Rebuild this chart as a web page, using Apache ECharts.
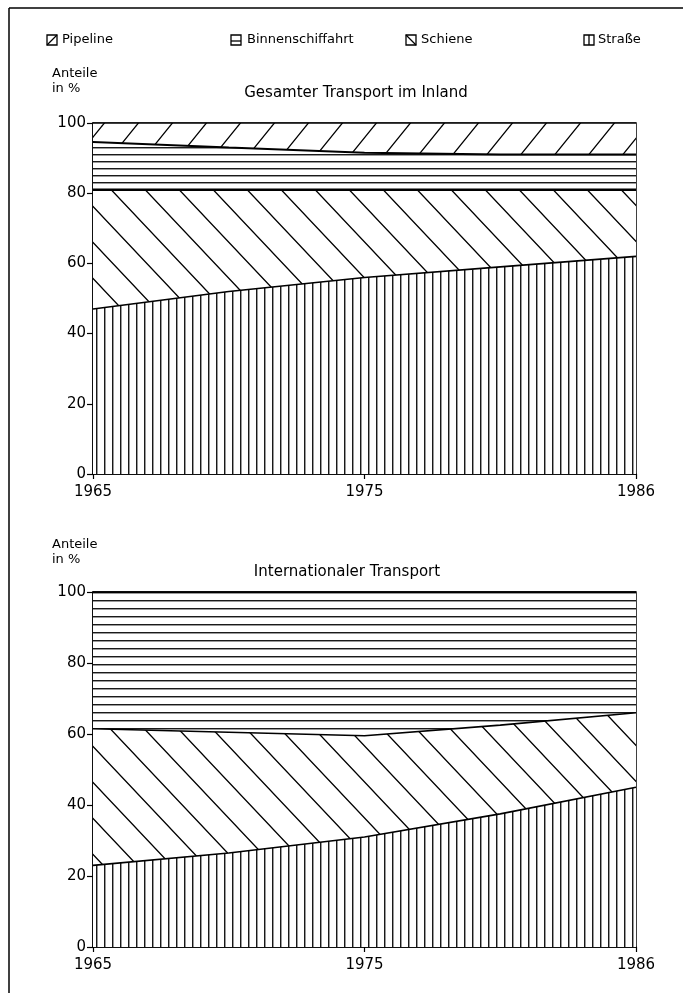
<!DOCTYPE html>
<html><head><meta charset="utf-8">
<script src="https://cdn.jsdelivr.net/npm/echarts@6/dist/echarts.min.js"></script>
<style>html,body{margin:0;padding:0;background:#fff}#c{width:683px;height:993px}</style>
</head><body><div id="c"></div>
<script>
// Categories (x positions are equally spaced in the original)
const years = ['1965', '1970', '1975', '1980', '1986'];
const shownYears = ['1965', '1975', '1986'];
const yTicks = [0, 20, 40, 60, 80, 100];
const legendNames = ['Pipeline', 'Binnenschiffahrt', 'Schiene', 'Straße'];

// Gesamter Transport im Inland (Anteile in %)
const inlandStrasse  = [47, 52, 56, 59, 62];
const inlandSchiene  = [34, 29, 25, 22, 19];
const inlandBinnen   = [13.6, 12, 10.5, 10, 10];
const inlandPipeline = [5.4, 7, 8.5, 9, 9];

// Internationaler Transport (Anteile in %)
const intStrasse  = [23, 26.5, 31, 37.5, 45];
const intSchiene  = [38.5, 34, 28.5, 25, 21];
const intBinnen   = [38.5, 39.5, 40.5, 37.5, 34];
const intPipeline = [0, 0, 0, 0, 0];

function tile(w, h, draw) {
  const c = document.createElement('canvas');
  c.width = w; c.height = h;
  const g = c.getContext('2d');
  g.fillStyle = '#fff'; g.fillRect(0, 0, w, h);
  g.strokeStyle = '#000'; g.lineWidth = 1.3;
  draw(g, w, h);
  return { image: c, repeat: 'repeat' };
}
const shifts = (w, h) => [[0,0],[-w,0],[w,0],[0,-h],[0,h]];
const patStrasse = tile(8, 8, (g, w, h) => { g.beginPath(); g.moveTo(0.75, 0); g.lineTo(0.75, h); g.stroke(); });
const patBinnenTop = tile(8, 7, (g, w, h) => { g.beginPath(); g.moveTo(0, 0.75); g.lineTo(w, 0.75); g.stroke(); });
const patBinnenBot = tile(8, 8, (g, w, h) => { g.beginPath(); g.moveTo(0, 0.75); g.lineTo(w, 0.75); g.stroke(); });
const patPipe = tile(34, 42, (g, w, h) => {
  g.beginPath();
  for (const [dx, dy] of shifts(w, h)) { g.moveTo(dx, h + dy); g.lineTo(w + dx, dy); }
  g.stroke();
});
const patSchiene = tile(34, 36, (g, w, h) => {
  g.beginPath();
  for (const [dx, dy] of shifts(w, h)) { g.moveTo(dx, dy); g.lineTo(w + dx, h + dy); }
  g.stroke();
});

function mk(name, data, idx, pat, stack, lw) {
  return {
    name, type: 'line', data, xAxisIndex: idx, yAxisIndex: idx, stack,
    symbol: 'none', silent: true, animation: false,
    itemStyle: { color: '#000' },
    lineStyle: { color: '#000', width: lw || 1.6 },
    areaStyle: { color: pat, opacity: 1 }
  };
}

const FONT = 'DejaVu Sans';
function xAx(i) {
  const show = (idx) => shownYears.indexOf(years[idx]) >= 0;
  return {
    type: 'category', gridIndex: i, data: years, boundaryGap: false,
    axisLine: { lineStyle: { color: '#000', width: 1.5 } },
    axisTick: { show: true, length: 5, interval: show, lineStyle: { color: '#000', width: 1.2 } },
    axisLabel: { interval: show, color: '#000', fontSize: 15, margin: 11, fontFamily: FONT }
  };
}
function yAx(i) {
  return {
    type: 'value', gridIndex: i, min: yTicks[0], max: yTicks[yTicks.length - 1], interval: 20,
    splitLine: { show: false },
    axisLine: { show: true, lineStyle: { color: '#000', width: 1.5 } },
    axisTick: { show: true, length: 6, lineStyle: { color: '#000', width: 1.2 } },
    axisLabel: { color: '#000', fontSize: 15, margin: 7, fontFamily: FONT }
  };
}

function txt(text, x, y, size, align) {
  return { type: 'text', silent: true, style: { text, x, y, fill: '#000', font: size + 'px ' + FONT, align: align || 'left', verticalAlign: 'middle', textAlign: align || 'left', textVerticalAlign: 'middle' } };
}
function box(x, y, inner) {
  const s = 10;
  const els = [{ type: 'rect', silent: true, shape: { x, y, width: s, height: s }, style: { fill: '#fff', stroke: '#000', lineWidth: 1.3 } }];
  inner.forEach(l => els.push({ type: 'line', silent: true, shape: { x1: x + l[0] * s, y1: y + l[1] * s, x2: x + l[2] * s, y2: y + l[3] * s }, style: { stroke: '#000', lineWidth: 1.3 } }));
  return els;
}

const graphics = [
  { type: 'line', silent: true, shape: { x1: 9, y1: 8, x2: 683, y2: 8 }, style: { stroke: '#000', lineWidth: 1.5 } },
  { type: 'line', silent: true, shape: { x1: 9, y1: 8, x2: 9, y2: 993 }, style: { stroke: '#000', lineWidth: 1.5 } },
  ...box(47, 35, [[0, 1, 1, 0]]),
  txt(legendNames[0], 62, 40, 13),
  ...box(231, 35, [[0, 0.6, 1, 0.6]]),
  txt(legendNames[1], 247, 40, 13),
  ...box(406, 35, [[0, 0, 1, 1]]),
  txt(legendNames[2], 421, 40, 13),
  ...box(584, 35, [[0.5, 0, 0.5, 1]]),
  txt(legendNames[3], 598, 40, 13),
  txt('Anteile', 52, 74, 13),
  txt('in %', 52, 89, 13),
  txt('Gesamter Transport im Inland', 356, 93, 15, 'center'),
  txt('Anteile', 52, 545, 13),
  txt('in %', 52, 560, 13),
  txt('Internationaler Transport', 347, 572, 15, 'center')
];

const chart = echarts.init(document.getElementById('c'), null, { renderer: 'canvas' });
chart.setOption({
  animation: false,
  backgroundColor: '#fff',
  grid: [
    { left: 93, width: 543, top: 123, height: 351, show: true, borderColor: '#000', borderWidth: 1.5, backgroundColor: 'transparent' },
    { left: 93, width: 543, top: 592, height: 355, show: true, borderColor: '#000', borderWidth: 1.5, backgroundColor: 'transparent' }
  ],
  xAxis: [xAx(0), xAx(1)],
  yAxis: [yAx(0), yAx(1)],
  series: [
    mk('Straße', inlandStrasse, 0, patStrasse, 'a'),
    mk('Schiene', inlandSchiene, 0, patSchiene, 'a', 2.6),
    mk('Binnenschiffahrt', inlandBinnen, 0, patBinnenTop, 'a', 2),
    mk('Pipeline', inlandPipeline, 0, patPipe, 'a'),
    mk('Straße', intStrasse, 1, patStrasse, 'b'),
    mk('Schiene', intSchiene, 1, patSchiene, 'b'),
    mk('Binnenschiffahrt', intBinnen, 1, patBinnenBot, 'b'),
    mk('Pipeline', intPipeline, 1, patPipe, 'b')
  ],
  graphic: graphics
});
</script>
</body></html>
